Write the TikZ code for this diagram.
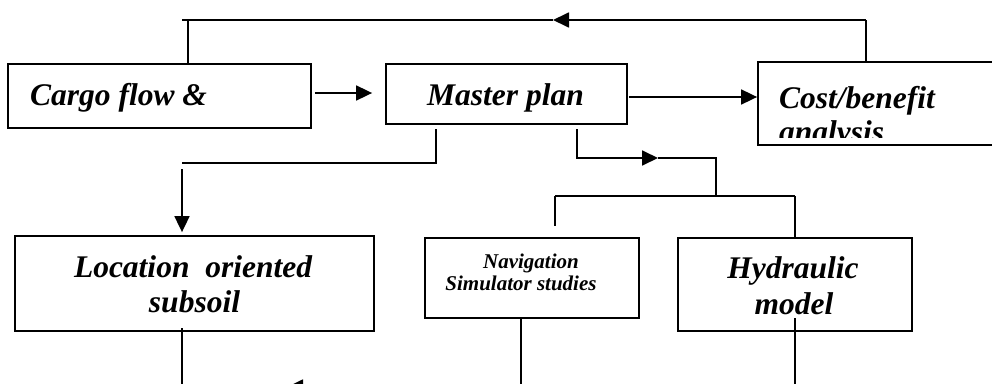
\documentclass[tikz,border=0pt]{standalone}
\usepackage{fontspec}
\setmainfont{Liberation Serif}
\usetikzlibrary{arrows.meta}
\begin{document}
\begin{tikzpicture}[x=1pt,y=-1pt,
  boxnode/.style={draw=black, line width=1.8pt, inner sep=0pt, rectangle},
  lbl/.style={inner sep=0pt, anchor=base, font=\fontsize{31.5}{36}\selectfont\bfseries\itshape},
  lblsmall/.style={inner sep=0pt, anchor=base, font=\fontsize{21}{24}\selectfont\bfseries\itshape},
  conn/.style={line width=1.8pt, black},
  arr/.style={conn, -{Triangle[length=16pt,width=15pt]}}]
\useasboundingbox (0,0) rectangle (992,383);
\clip (0,0) rectangle (992,383);
\fill[white] (0,0) rectangle (992,383);

% boxes
\node[boxnode, minimum width=303pt, minimum height=64pt] (cargo) at (159.5,96) {};
\node[boxnode, minimum width=241pt, minimum height=60pt] (master) at (506.5,94) {};
\node[boxnode, minimum width=252pt, minimum height=83pt] (cost) at (884,103.5) {};
\node[boxnode, minimum width=359pt, minimum height=95pt] (loc) at (194.5,283.5) {};
\node[boxnode, minimum width=214pt, minimum height=80pt] (nav) at (532,278) {};
\node[boxnode, minimum width=234pt, minimum height=93pt] (hyd) at (795,284.5) {};

% texts
\node[lbl, anchor=base west] (cargoT) at (30,105) {Cargo flow \&};
\node[lbl, anchor=base west] (masterT) at (427,105) {Master plan};
\node[lbl, anchor=base west] (costT) at (779,108) {Cost/benefit};
\begin{scope}
  \clip (758,62) rectangle (992,137);
  \node[lbl, anchor=base west] (costT2) at (779,142) {analysis};
\end{scope}
\node[lbl] (locT1) at (193,277) {Location\ \ oriented};
\node[lbl] (locT2) at (194.5,312) {subsoil};
\node[lblsmall] (navT1) at (531,268) {Navigation};
\node[lblsmall] (navT2) at (521,290) {Simulator studies};
\node[lbl] (hydT1) at (793,278) {Hydraulic};
\node[lbl] (hydT2) at (794,314) {model};

% route coordinates
\coordinate (tr) at (866,20);
\coordinate (tm) at (553,20);
\coordinate (tl) at (182,20);
\coordinate (tlv) at (188,21);
\coordinate (m1) at (436,129);
\coordinate (m2) at (436,163);
\coordinate (m3) at (182,163);
\coordinate (l1) at (182,169);
\coordinate (h1) at (577,129);
\coordinate (h2) at (577,158);
\coordinate (h3) at (658,158);
\coordinate (h4) at (716,158);
\coordinate (h5) at (716,196);
\coordinate (bl) at (555,196);
\coordinate (br) at (795,196);
\coordinate (blb) at (555,226);
\coordinate (lb) at (182,328);
\coordinate (nb) at (521,318);
\coordinate (hb) at (795,318);
\coordinate (bot1) at (182,390);
\coordinate (bot2) at (521,390);
\coordinate (bot3) at (795,390);
\coordinate (bwR) at (420,387);
\coordinate (bwL) at (287,387);

% connectors
\draw[arr, shorten <=3pt, shorten >=13pt] ([yshift=3pt]cargo.east) -- ([yshift=3pt]cargo.east -| master.west);
\draw[arr, shorten <=1pt] ([yshift=-3pt]master.east) -- ([yshift=-3pt]master.east -| cost.west);
\draw[conn] (tr |- cost.north) -- (tr);
\draw[arr] (tr) -- (tm);
\draw[conn] (tm) -- (tl);
\draw[conn] (tlv) -- (tlv |- cargo.north);
\draw[conn] (m1) -- (m2) -- (m3);
\draw[arr, shorten >=3pt] (l1) -- (l1 |- loc.north);
\draw[arr] (h1) -- (h2) -- (h3);
\draw[conn] (h3) -- (h4) -- (h5);
\draw[conn] (bl) -- (br);
\draw[conn] (bl) -- (blb);
\draw[conn] (br) -- (br |- hyd.north);
\draw[conn] (lb) -- (bot1);
\draw[conn] (nb) -- (bot2);
\draw[conn] (hb) -- (bot3);
\draw[arr] (bwR) -- (bwL);
\end{tikzpicture}
\end{document}
